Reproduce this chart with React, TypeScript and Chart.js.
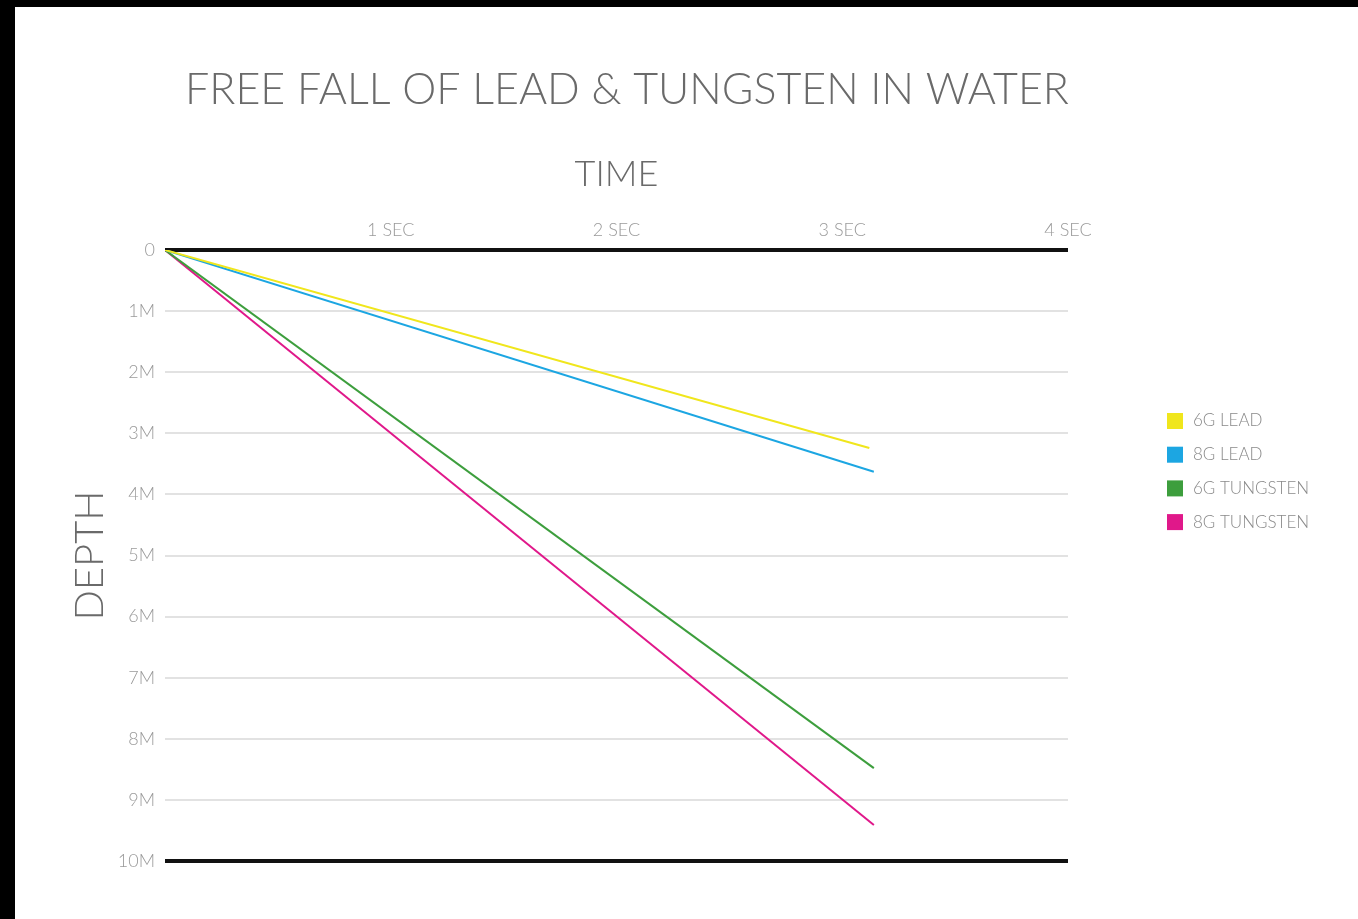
import React, { useEffect, useRef } from "react";
import { Chart, registerables } from "chart.js";

Chart.register(...registerables);

const titleText = "FREE FALL OF LEAD & TUNGSTEN IN WATER";
const xTitleText = "TIME";
const yTitleText = "DEPTH";

const seriesLabels = ["6G LEAD", "8G LEAD", "6G TUNGSTEN", "8G TUNGSTEN"];
const seriesColors = ["#f0e61c", "#1ca6e2", "#3d9e3d", "#e0188a"];

// time in seconds, depth in metres
const time6gLead = [0, 3.12];
const depth6gLead = [0, 3.24];
const time8gLead = [0, 3.14];
const depth8gLead = [0, 3.63];
const time6gTungsten = [0, 3.14];
const depth6gTungsten = [0, 8.48];
const time8gTungsten = [0, 3.14];
const depth8gTungsten = [0, 9.41];

const xTickValues = [0, 1, 2, 3, 4];
const yTickValues = [0, 1, 2, 3, 4, 5, 6, 7, 8, 9, 10];

const FONT = "Lato, 'DejaVu Sans', sans-serif";

const pairs = (xs: number[], ys: number[]) => xs.map((x, i) => ({ x, y: ys[i] }));

const sideLegend = {
  id: "sideLegend",
  afterDraw(chart: any) {
    const ctx = chart.ctx;
    ctx.save();
    ctx.font = `300 17px ${FONT}`;
    ctx.textBaseline = "middle";
    ctx.textAlign = "left";
    chart.data.datasets.forEach((ds: any, i: number) => {
      const cy = 414 + i * 33.7;
      ctx.fillStyle = ds.borderColor;
      ctx.fillRect(1152, cy - 8, 16, 16);
      ctx.fillStyle = "#8a8a8a";
      ctx.fillText(ds.label, 1178, cy);
    });
    ctx.restore();
  },
};

export default function App() {
  const canvasRef = useRef<HTMLCanvasElement | null>(null);

  useEffect(() => {
    if (!canvasRef.current) return;
    const xs = [time6gLead, time8gLead, time6gTungsten, time8gTungsten];
    const ys = [depth6gLead, depth8gLead, depth6gTungsten, depth8gTungsten];
    const chart = new Chart(canvasRef.current, {
      type: "line",
      data: {
        datasets: seriesLabels.map((label, i) => ({
          label,
          data: pairs(xs[i], ys[i]),
          borderColor: seriesColors[i],
          backgroundColor: seriesColors[i],
          borderWidth: 2,
          pointRadius: 0,
          tension: 0,
          fill: false,
          yAxisID: "y",
        })),
      },
      options: {
        animation: false,
        responsive: false,
        layout: { padding: { left: 0, right: 119, top: 0, bottom: 58 } },
        plugins: {
          legend: { display: false },
          tooltip: { enabled: false },
          title: {
            display: true,
            text: titleText,
            color: "#6a6a6a",
            font: { family: FONT, size: 43, weight: "300" as any },
            padding: { top: 57, bottom: 0 },
          },
        },
        scales: {
          x: {
            type: "linear",
            position: "top",
            min: xTickValues[0],
            max: xTickValues[xTickValues.length - 1],
            afterBuildTicks: (scale: any) => {
              scale.ticks = xTickValues.map((v) => ({ value: v }));
            },
            afterFit: (scale: any) => {
              scale.height = 243 - (57 + 43 * 1.2);
            },
            ticks: {
              padding: 1,
              color: "#9a9a9a",
              font: { family: FONT, size: 18, weight: "300" as any },
              maxRotation: 0,
              callback: (v: any) => (Number(v) === 0 ? "" : `${v} SEC`),
            },
            grid: { display: false },
            border: { display: false },
            title: {
              display: true,
              text: xTitleText,
              color: "#6a6a6a",
              font: { family: FONT, size: 36, weight: "300" as any },
              padding: { top: 37, bottom: 0 },
            },
          },
          y: {
            type: "linear",
            reverse: true,
            min: yTickValues[0],
            max: yTickValues[yTickValues.length - 1],
            afterBuildTicks: (scale: any) => {
              scale.ticks = yTickValues.map((v) => ({ value: v }));
            },
            afterFit: (scale: any) => {
              scale.width = 150;
            },
            ticks: {
              padding: 10,
              color: "#9a9a9a",
              font: { family: FONT, size: 18, weight: "300" as any },
              callback: (v: any) => (Number(v) === 0 ? "0" : `${v}M`),
            },
            grid: {
              drawTicks: false,
              color: (c: any) =>
                c.tick && (c.tick.value === 0 || c.tick.value === 10) ? "#111111" : "#e2e2e2",
              lineWidth: (c: any) =>
                c.tick && (c.tick.value === 0 || c.tick.value === 10) ? 4 : 2,
            },
            border: { display: false },
            title: {
              display: true,
              text: yTitleText,
              color: "#6a6a6a",
              font: { family: FONT, size: 40, weight: "300" as any },
              padding: { top: 51, bottom: 0 },
            },
          },
          ySpacer: {
            type: "linear",
            position: "right",
            display: true,
            ticks: { display: false },
            grid: { display: false },
            border: { display: false },
            afterFit: (scale: any) => {
              scale.width = 171;
            },
          },
        },
      },
      plugins: [sideLegend],
    });
    return () => chart.destroy();
  }, []);

  return (
    <div
      style={{
        position: "fixed",
        left: 0,
        top: 0,
        width: 1358,
        height: 919,
        background: "#ffffff",
        borderTop: "7px solid #000",
        borderLeft: "15px solid #000",
        boxSizing: "border-box",
      }}
    >
      <canvas ref={canvasRef} width={1343} height={912} style={{ display: "block" }} />
    </div>
  );
}
